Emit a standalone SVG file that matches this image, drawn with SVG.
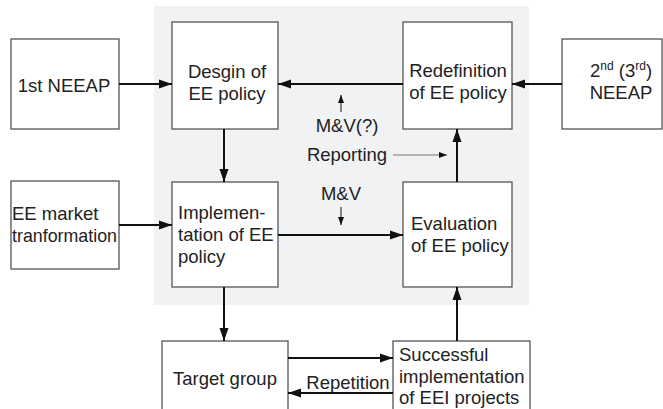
<svg xmlns="http://www.w3.org/2000/svg" width="663" height="409" viewBox="0 0 663 409">
<style>
.box{fill:#fff;stroke:#555;stroke-width:1.3}
.t{font-family:"Liberation Sans",Arial,sans-serif;font-size:18.5px;fill:#222}
.c{text-anchor:middle}
.ln{stroke:#111;stroke-width:2;fill:none}
.sm{stroke:#111;stroke-width:1;fill:none}
.gr{stroke:#777;stroke-width:1;fill:none}
</style>
<defs>
<marker id="ah" markerUnits="userSpaceOnUse" markerWidth="14" markerHeight="10" refX="13" refY="5" orient="auto">
<path d="M0,0.5 L13,5 L0,9.5 z" fill="#111"/>
</marker>
<marker id="sh" markerUnits="userSpaceOnUse" markerWidth="10" markerHeight="8" refX="8" refY="3" orient="auto">
<path d="M0,0 L8,3 L0,6 z" fill="#111"/>
</marker>
</defs>
<rect x="154" y="6" width="375" height="299" fill="#f1f2f4"/>
<g id="neeap1"><rect class="box" x="11" y="39" width="108" height="90"/><text class="t c" x="64" y="92">1st NEEAP</text></g>
<g id="design"><rect class="box" x="172" y="22" width="106" height="107"/><text class="t c" x="227" y="78">Desgin of</text><text class="t c" x="227" y="100">EE policy</text></g>
<g id="redef"><rect class="box" x="403" y="22" width="109" height="107"/><text class="t c" x="458" y="77">Redefinition</text><text class="t c" x="458" y="99">of EE policy</text></g>
<g id="neeap2"><rect class="box" x="562" y="39" width="100" height="90"/><text class="t c" x="621" y="77">2<tspan font-size="12" dy="-7">nd</tspan><tspan dy="7"> (3</tspan><tspan font-size="12" dy="-7">rd</tspan><tspan dy="7">)</tspan></text><text class="t c" x="621" y="99">NEEAP</text></g>
<g id="market"><rect class="box" x="11" y="181" width="108" height="88"/><text class="t" x="12" y="220">EE market</text><text class="t" x="12" y="242" textLength="105" lengthAdjust="spacingAndGlyphs">tranformation</text></g>
<g id="impl"><rect class="box" x="172" y="182" width="106" height="105"/><text class="t" x="178" y="219">Implemen-</text><text class="t" x="178" y="241">tation of EE</text><text class="t" x="178" y="263">policy</text></g>
<g id="eval"><rect class="box" x="403" y="182" width="109" height="105"/><text class="t" x="411" y="230">Evaluation</text><text class="t" x="411" y="252">of EE policy</text></g>
<g id="target"><rect class="box" x="162" y="341" width="126" height="75"/><text class="t c" x="225" y="385">Target group</text></g>
<g id="success"><rect class="box" x="393" y="341" width="137" height="75"/><text class="t" x="399" y="361">Successful</text><text class="t" x="399" y="383">implementation</text><text class="t" x="399" y="404">of EEI projects</text></g>
<g id="labels">
<text class="t c" x="347" y="132">M&amp;V(?)</text>
<text class="t c" x="347" y="161">Reporting</text>
<text class="t c" x="341" y="200">M&amp;V</text>
<text class="t c" x="348" y="389">Repetition</text>
</g>
<g id="connectors">
<line class="ln" x1="119" y1="84" x2="172" y2="84" marker-end="url(#ah)"/>
<line class="ln" x1="562" y1="84" x2="512" y2="84" marker-end="url(#ah)"/>
<line class="ln" x1="403" y1="84" x2="278" y2="84" marker-end="url(#ah)"/>
<line class="ln" x1="224" y1="129" x2="224" y2="182" marker-end="url(#ah)"/>
<line class="ln" x1="119" y1="225" x2="172" y2="225" marker-end="url(#ah)"/>
<line class="ln" x1="278" y1="235" x2="403" y2="235" marker-end="url(#ah)"/>
<line class="ln" x1="457" y1="182" x2="457" y2="129" marker-end="url(#ah)"/>
<line class="ln" x1="224" y1="287" x2="224" y2="341" marker-end="url(#ah)"/>
<line class="ln" x1="457" y1="341" x2="457" y2="287" marker-end="url(#ah)"/>
<line class="ln" x1="288" y1="358" x2="393" y2="358" marker-end="url(#ah)"/>
<line class="ln" x1="393" y1="393" x2="288" y2="393" marker-end="url(#ah)"/>
<line class="sm" x1="341" y1="112" x2="341" y2="95" marker-end="url(#sh)"/>
<line class="sm" x1="341" y1="207" x2="341" y2="225" marker-end="url(#sh)"/>
<line class="gr" x1="393" y1="155" x2="447" y2="155" marker-end="url(#sh)"/>
</g>
</svg>
